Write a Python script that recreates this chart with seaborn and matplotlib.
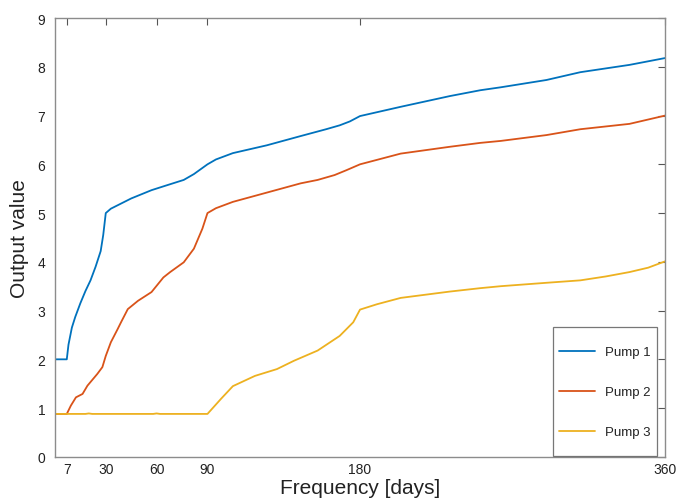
import numpy as np
import pandas as pd
import matplotlib
matplotlib.use("Agg")
import matplotlib.pyplot as plt
import seaborn as sns

# ---- data ----
days1 = [0, 7, 8, 10, 12, 15, 18, 21, 24, 27, 28.5, 30, 33, 37, 45, 57, 66, 76, 82, 86, 90,
         95, 105, 125, 145, 160, 168, 174, 180, 204, 233, 251, 263, 290, 310, 339, 360]
pump1 = [2.0, 2.0, 2.3, 2.65, 2.87, 3.15, 3.4, 3.62, 3.9, 4.22, 4.55, 5.0, 5.09, 5.16, 5.3, 5.47,
         5.57, 5.68, 5.8, 5.9, 6.0, 6.1, 6.23, 6.39, 6.58, 6.72, 6.8, 6.88, 6.99, 7.18, 7.4,
         7.52, 7.58, 7.73, 7.89, 8.04, 8.18]

days2 = [0, 7, 9.4, 12.4, 16.3, 19.2, 25, 28, 30, 33, 37, 39, 43, 49, 57, 64, 68, 76, 82, 87, 90,
         95, 105, 125, 145, 155, 165, 172, 180, 204, 233, 251, 263, 290, 310, 339, 360]
pump2 = [0.88, 0.88, 1.05, 1.22, 1.29, 1.46, 1.7, 1.84, 2.07, 2.35, 2.62, 2.76, 3.03, 3.2, 3.38,
         3.68, 3.79, 3.99, 4.27, 4.68, 5.0, 5.1, 5.23, 5.42, 5.61, 5.68, 5.78, 5.88, 6.0, 6.22,
         6.36, 6.44, 6.48, 6.6, 6.72, 6.83, 7.0]

days3 = [0, 18, 20, 22, 58, 60, 62, 90, 98, 105, 118, 131, 141, 155, 168, 176, 180, 190, 204,
         233, 251, 263, 290, 310, 325, 339, 350, 360]
pump3 = [0.88, 0.88, 0.89, 0.88, 0.88, 0.89, 0.88, 0.88, 1.19, 1.45, 1.66, 1.8, 1.97, 2.18,
         2.48, 2.76, 3.02, 3.13, 3.26, 3.39, 3.46, 3.5, 3.57, 3.62, 3.7, 3.79, 3.88, 4.01]

series_names = ["Pump 1", "Pump 2", "Pump 3"]
xticks = [7, 30, 60, 90, 180, 360]
yticks = list(range(0, 10))

df = pd.concat([
    pd.DataFrame({"day": days1, "value": pump1, "series": series_names[0]}),
    pd.DataFrame({"day": days2, "value": pump2, "series": series_names[1]}),
    pd.DataFrame({"day": days3, "value": pump3, "series": series_names[2]}),
], ignore_index=True)

# ---- style ----
sns.set_style("white")
plt.rcParams["font.family"] = ["Liberation Sans", "DejaVu Sans"]

palette = {"Pump 1": "#0072BD", "Pump 2": "#D95319", "Pump 3": "#EDB120"}

fig = plt.figure(figsize=(6.78, 5.02), dpi=100)
ax = fig.add_axes([0.081, 0.088, 0.900, 0.874])

sns.lineplot(data=df, x="day", y="value", hue="series", palette=palette,
             hue_order=series_names, sort=False, estimator=None, linewidth=1.3, ax=ax)

ax.set_xlim(0, 360)
ax.set_ylim(0, 9)
ax.set_xticks(xticks)
ax.set_yticks(yticks)
ax.tick_params(direction="in", length=5, width=0.8, color="#555555",
               top=True, right=True, labelsize=10, labelcolor="#222222", pad=4)
ax.tick_params(axis="y", pad=7)
for s in ax.spines.values():
    s.set_color("#8c8c8c")
    s.set_linewidth(1.0)

ax.set_xlabel("Frequency [days]", fontsize=15, color="#222222", labelpad=1)
ax.set_ylabel("Output value", fontsize=15, color="#222222", labelpad=6)

leg = ax.legend(loc="lower right", bbox_to_anchor=(0.987, 0.002), borderaxespad=0,
                fontsize=9.5, labelspacing=0.23, handlelength=2.7, handletextpad=0.75,
                handleheight=3.9, borderpad=0.5, fancybox=False, frameon=True)
leg.get_frame().set_edgecolor("#555555")
leg.get_frame().set_linewidth(0.9)
for t in leg.get_texts():
    t.set_color("#222222")
for l in leg.get_lines():
    l.set_linewidth(1.3)
    l.set_ydata(np.asarray(l.get_ydata()) - 5.0)

fig.savefig("out.png", dpi=100)
